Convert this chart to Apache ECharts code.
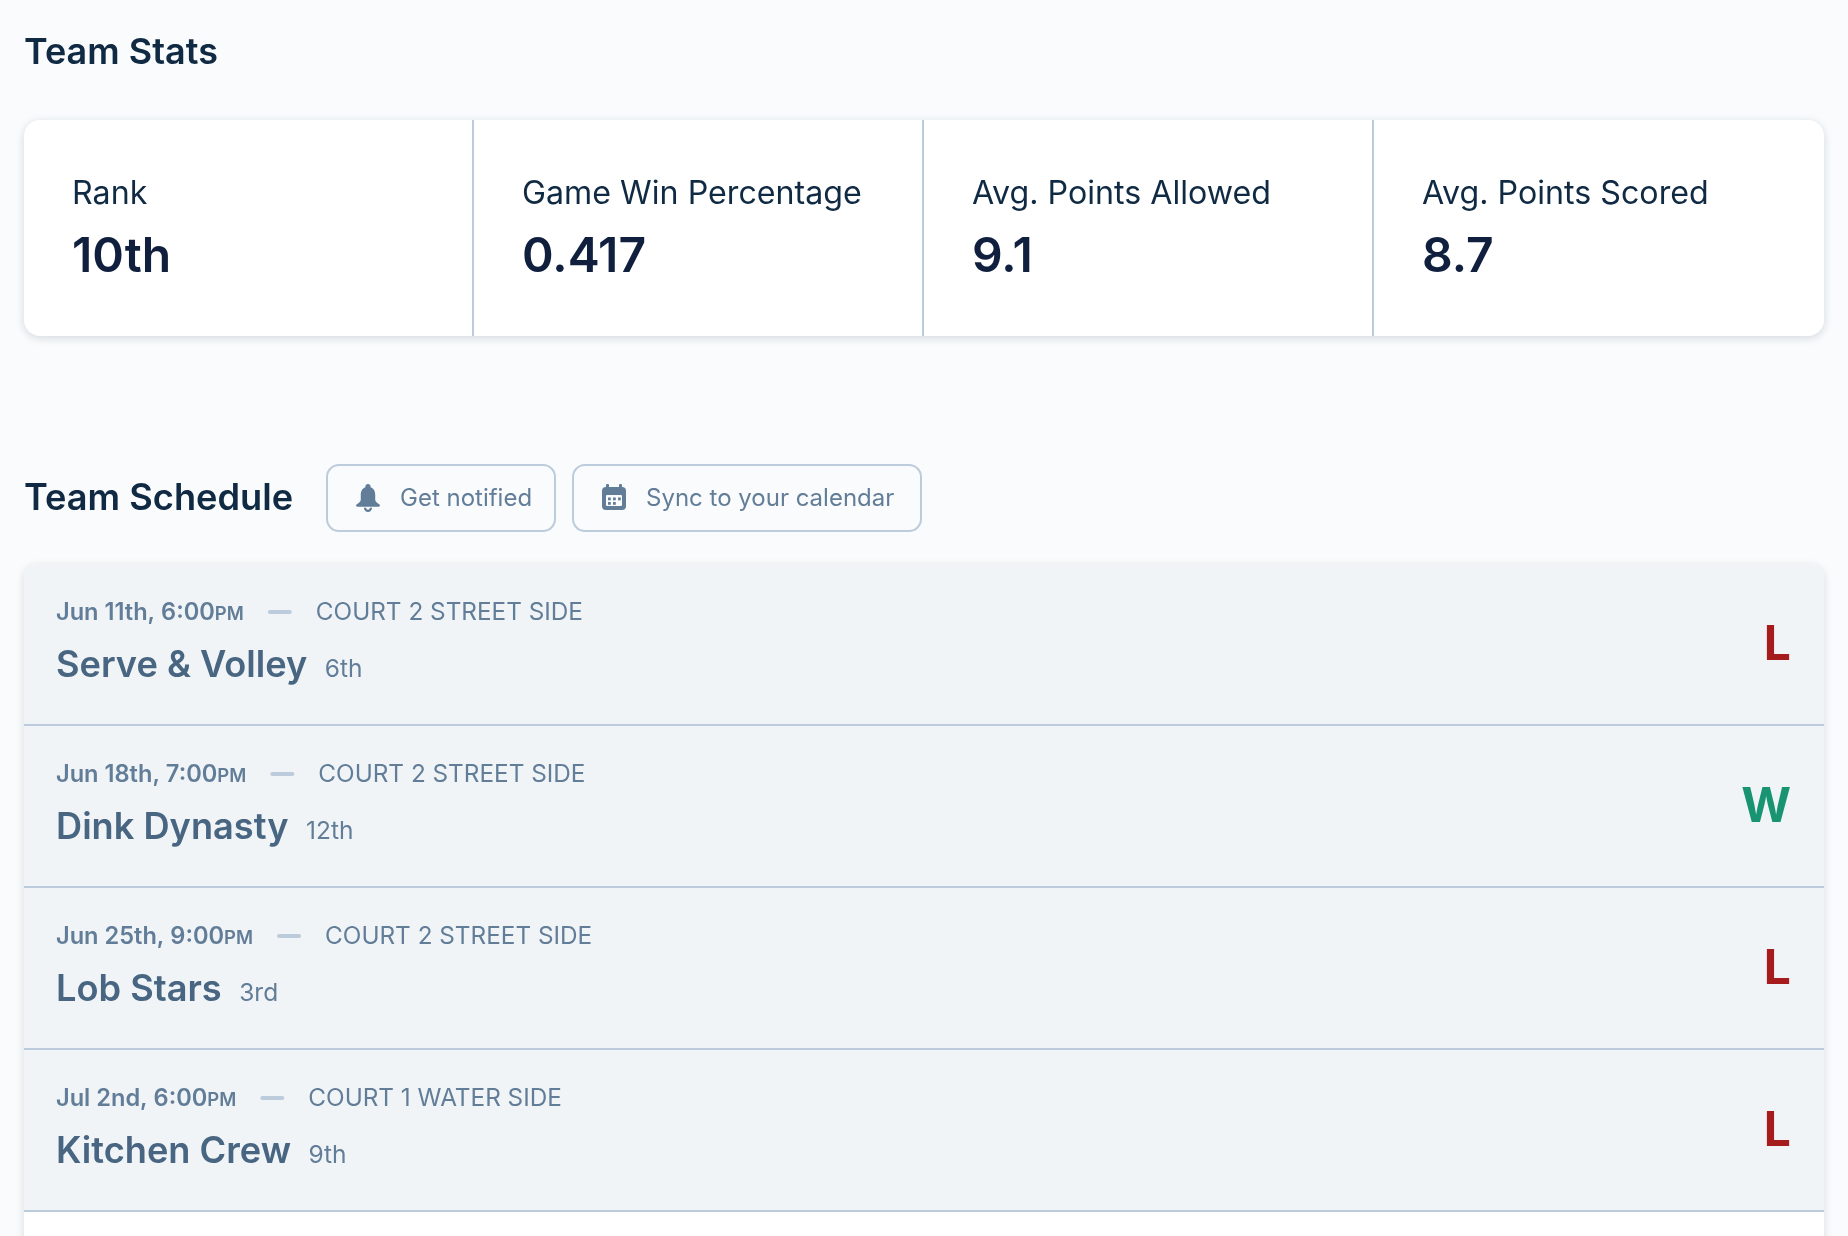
<!DOCTYPE html>
<html>
<head>
<meta charset="utf-8">
<title>Team Stats</title>
<script src="https://cdn.jsdelivr.net/npm/echarts@6/dist/echarts.min.js"></script>
<style>
  html, body { margin: 0; padding: 0; background: #f9fbfc; }
  #main { width: 1848px; height: 1236px; }
</style>
</head>
<body>
<div id="main"></div>
<script>
// 统计卡片
const statLabels = ['Rank', 'Game Win Percentage', 'Avg. Points Allowed', 'Avg. Points Scored'];
const statValues = ['10th', '0.417', '9.1', '8.7'];

// 赛程
const matchDates = ['Jun 11th, 6:00', 'Jun 18th, 7:00', 'Jun 25th, 9:00', 'Jul 2nd, 6:00'];
const matchMeridiem = ['PM', 'PM', 'PM', 'PM'];
const matchCourts = ['COURT 2 STREET SIDE', 'COURT 2 STREET SIDE', 'COURT 2 STREET SIDE', 'COURT 1 WATER SIDE'];
const teamNames = ['Serve & Volley', 'Dink Dynasty', 'Lob Stars', 'Kitchen Crew'];
const teamRanks = ['6th', '12th', '3rd', '9th'];
const matchResults = ['L', 'W', 'L', 'L'];

const FONT = 'Inter, sans-serif';
const PAGE_BG = '#f9fbfc';
const measureCtx = document.createElement('canvas').getContext('2d');

function textWidth(str, weight, size) {
    measureCtx.font = `${weight} ${size}px ${FONT}`;
    return measureCtx.measureText(str).width;
}

// zrender没有基线对齐，这里用middle换算
function label(x, baseline, str, weight, size, fill, align) {
    return {
        type: 'text',
        silent: true,
        style: {
            x: x,
            y: baseline - size * 0.29,
            text: str,
            fill: fill,
            font: `${weight} ${size}px ${FONT}`,
            align: align || 'left',
            verticalAlign: 'middle'
        }
    };
}

function renderCard(params, api) {
    const i = params.dataIndex;
    const x = api.coord([i, 0])[0] - api.size([1, 0])[0] / 2;
    const top = params.coordSys.y;
    const height = params.coordSys.height;
    const children = [
        label(x + 48, top + 84, statLabels[i], 400, 32.2, '#102a43'),
        label(x + 48, top + 151, statValues[i], 600, 48, '#0f1f3d')
    ];
    if (i > 0) {
        children.push({
            type: 'rect',
            silent: true,
            shape: { x: x - 2, y: top, width: 2, height: height },
            style: { fill: '#bcccdc' }
        });
    }
    return { type: 'group', children: children };
}

function renderRow(params, api) {
    const i = params.dataIndex;
    const [x, center] = api.coord([0, i]);
    const band = api.size([0, 1])[1];
    const width = params.coordSys.width;
    const top = center - band / 2;
    const left = x + 32;

    const dateWidth = textWidth(matchDates[i], 600, 23.6);
    const pmWidth = textWidth(matchMeridiem[i], 600, 18.5);
    const dashX = left + dateWidth + pmWidth + 24;
    const nameWidth = textWidth(teamNames[i], 600, 36.2);

    return {
        type: 'group',
        children: [
            {
                type: 'rect',
                silent: true,
                shape: { x: x, y: top, width: width, height: band, r: i === 0 ? [14, 14, 0, 0] : 0 },
                style: { fill: '#f0f4f7' }
            },
            {
                type: 'rect',
                silent: true,
                shape: { x: x, y: top + band - 2, width: width, height: 2 },
                style: { fill: '#bcccdc' }
            },
            label(left, top + 56, matchDates[i], 600, 23.6, '#627d98'),
            label(left + dateWidth, top + 56, matchMeridiem[i], 600, 18.5, '#627d98'),
            {
                type: 'rect',
                silent: true,
                shape: { x: dashX, y: top + 46, width: 24, height: 4, r: 2 },
                style: { fill: '#bcccdc' }
            },
            label(dashX + 48, top + 56, matchCourts[i], 400, 24.3, '#627d98'),
            label(left, top + 113, teamNames[i], 600, 36.2, '#486581'),
            label(left + nameWidth + 17.5, top + 113, teamRanks[i], 400, 24.5, '#627d98'),
            label(x + width - 33, top + 95, matchResults[i], 700, 48, matchResults[i] === 'W' ? '#199473' : '#a61b1b', 'right')
        ]
    };
}

const bellPath = 'M12 0c-1.4 0-2.5 1.1-2.5 2.5v.6C6.3 4.2 5 7.3 5 10.5V15c0 1.5-1 2.8-3.800 4.600C-.2 20.500.2 22 2 22h20c1.800 0 2.200-1.500.8-2.400C20 17.800 19 16.500 19 15v-4.500c0-3.200-1.300-6.300-4.500-7.400v-.6C14.500 1.100 13.400 0 12 0zM8 23a4 4 0 0 0 8 0h-2.200a1.800 1.800 0 0 1-3.600 0z';

// 按钮图标，graphic组件没有path类型，放在custom系列里画
function renderIcons() {
    const dots = [[0, 0], [1, 0], [2, 0], [0, 1], [1, 1]].map(([c, r]) => ({
        type: 'rect',
        silent: true,
        shape: { x: 608 + c * 5, y: 497.5 + r * 4.5, width: 2.8, height: 2.8 },
        style: { fill: '#627d98' }
    }));
    return {
        type: 'group',
        children: [
            {
                type: 'path',
                silent: true,
                shape: { pathData: bellPath, layout: 'cover', x: 356, y: 484, width: 24, height: 28 },
                style: { fill: '#627d98' }
            },
            { type: 'rect', silent: true, shape: { x: 602, y: 487, width: 24, height: 23, r: 4 }, style: { fill: '#627d98' } },
            { type: 'rect', silent: true, shape: { x: 606, y: 484, width: 3, height: 5, r: 1 }, style: { fill: '#627d98' } },
            { type: 'rect', silent: true, shape: { x: 619, y: 484, width: 3, height: 5, r: 1 }, style: { fill: '#627d98' } },
            { type: 'rect', silent: true, shape: { x: 606, y: 495, width: 16, height: 11, r: 1 }, style: { fill: PAGE_BG } }
        ].concat(dots)
    };
}

const chart = echarts.init(document.getElementById('main'));

function button(x, y, width, height) {
    return {
        type: 'rect',
        z: 1,
        shape: { x: x, y: y, width: width, height: height, r: 12 },
        style: { fill: PAGE_BG, stroke: '#bcccdc', lineWidth: 2 }
    };
}

chart.setOption({
    backgroundColor: PAGE_BG,
    animation: false,
    grid: [
        { left: 24, top: 120, width: 1800, height: 216 },
        { left: 24, top: 564, width: 1800, height: 648 }
    ],
    xAxis: [
        { gridIndex: 0, type: 'category', data: statLabels, show: false },
        { gridIndex: 1, type: 'value', min: 0, max: 1, show: false }
    ],
    yAxis: [
        { gridIndex: 0, type: 'value', min: 0, max: 1, show: false },
        { gridIndex: 1, type: 'category', data: teamNames, inverse: true, show: false }
    ],
    graphic: [
        // 卡片底板
        {
            type: 'rect',
            z: 0,
            shape: { x: 24, y: 120, width: 1800, height: 216, r: 16 },
            style: { fill: '#ffffff', shadowBlur: 8, shadowOffsetY: 2, shadowColor: 'rgba(16,42,67,0.16)' }
        },
        {
            type: 'rect',
            z: 0,
            shape: { x: 24, y: 564, width: 1800, height: 720, r: 14 },
            style: { fill: '#ffffff', shadowBlur: 8, shadowOffsetY: 2, shadowColor: 'rgba(16,42,67,0.14)' }
        },
        Object.assign(label(24, 64, 'Team Stats', 600, 36, '#102a43'), { z: 1 }),
        Object.assign(label(24, 510, 'Team Schedule', 600, 36.2, '#102a43'), { z: 1 }),
        button(327, 465, 228, 66),
        button(573, 465, 348, 66),
        Object.assign(label(400, 506, 'Get notified', 400, 24, '#627d98'), { z: 2 }),
        Object.assign(label(646, 506, 'Sync to your calendar', 400, 24, '#627d98'), { z: 2 })
    ],
    series: [
        {
            type: 'custom',
            coordinateSystem: 'cartesian2d',
            xAxisIndex: 0,
            yAxisIndex: 0,
            clip: false,
            data: statValues.map((v, i) => [i, 0]),
            renderItem: renderCard
        },
        {
            type: 'custom',
            coordinateSystem: 'cartesian2d',
            xAxisIndex: 1,
            yAxisIndex: 1,
            clip: false,
            data: teamNames.map((n, i) => [0, i]),
            renderItem: renderRow
        },
        {
            type: 'custom',
            coordinateSystem: 'none',
            data: [0],
            renderItem: renderIcons
        }
    ]
});
</script>
</body>
</html>
